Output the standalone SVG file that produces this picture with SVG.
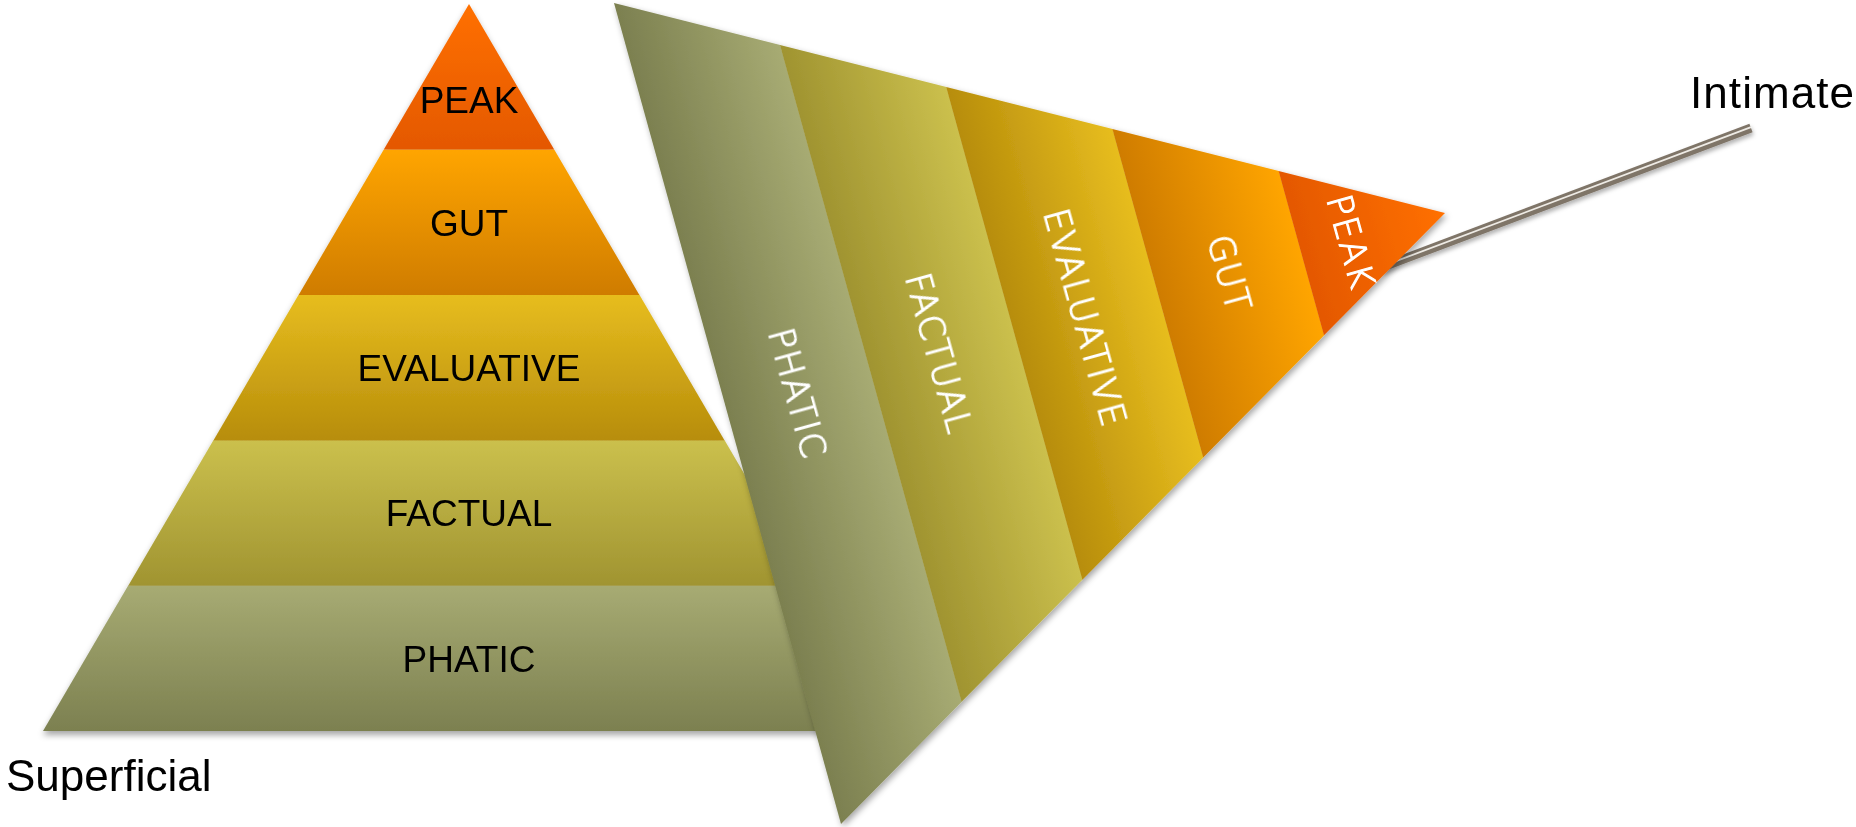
<svg xmlns="http://www.w3.org/2000/svg" width="1856" height="827" viewBox="0 0 1856 827">
  <defs>
    <linearGradient id="gPeak" x1="0" y1="0" x2="0" y2="1"><stop offset="0" stop-color="#ff7000"/><stop offset="1" stop-color="#e45800"/></linearGradient>
    <linearGradient id="gGut" x1="0" y1="0" x2="0" y2="1"><stop offset="0" stop-color="#ffa500"/><stop offset="1" stop-color="#cf7c00"/></linearGradient>
    <linearGradient id="gEval" x1="0" y1="0" x2="0" y2="1"><stop offset="0" stop-color="#e7bd1f"/><stop offset="1" stop-color="#b78d0b"/></linearGradient>
    <linearGradient id="gFact" x1="0" y1="0" x2="0" y2="1"><stop offset="0" stop-color="#cbc04d"/><stop offset="1" stop-color="#a09431"/></linearGradient>
    <linearGradient id="gPhat" x1="0" y1="0" x2="0" y2="1"><stop offset="0" stop-color="#a7ab73"/><stop offset="1" stop-color="#7c8050"/></linearGradient>
    <filter id="shPyr" x="-5%" y="-5%" width="110%" height="115%">
      <feDropShadow dx="0" dy="4" stdDeviation="3" flood-color="#000" flood-opacity="0.35"/>
    </filter>
    <filter id="shFun" x="-10%" y="-10%" width="120%" height="120%">
      <feDropShadow dx="2" dy="3" stdDeviation="3" flood-color="#000" flood-opacity="0.35"/>
    </filter>
    <filter id="shStick" x="-10%" y="-50%" width="120%" height="200%">
      <feDropShadow dx="1" dy="3" stdDeviation="2" flood-color="#000" flood-opacity="0.3"/>
    </filter>
    <style>
      .lbl { font-family: "Liberation Sans", Arial, sans-serif; font-size: 37px; fill: #000; text-anchor: middle; }
      .flbl { font-family: "DejaVu Sans", "Liberation Sans", sans-serif; font-weight: 300; font-size: 35px; letter-spacing: 1.5px; fill: #fff; stroke: #fff; stroke-width: 1.1px; text-anchor: middle; }
      .end { font-family: "Liberation Sans", Arial, sans-serif; font-size: 44px; fill: #000; }
    </style>
  </defs>

  <!-- Left pyramid -->
  <g id="pyramid" filter="url(#shPyr)">
    <g id="pyr-phatic">
      <polygon points="128.2,585.6 809.8,585.6 895,731 43,731" fill="url(#gPhat)"/>
      <text class="lbl" x="469" y="672">PHATIC</text>
    </g>
    <g id="pyr-factual">
      <polygon points="213.4,440.2 724.6,440.2 809.8,585.8 128.2,585.8" fill="url(#gFact)"/>
      <text class="lbl" x="469" y="526">FACTUAL</text>
    </g>
    <g id="pyr-evaluative">
      <polygon points="298.6,294.8 639.4,294.8 724.6,440.4 213.4,440.4" fill="url(#gEval)"/>
      <text class="lbl" x="469" y="381">EVALUATIVE</text>
    </g>
    <g id="pyr-gut">
      <polygon points="383.8,149.4 554.2,149.4 639.4,295 298.6,295" fill="url(#gGut)"/>
      <text class="lbl" x="469" y="236">GUT</text>
    </g>
    <g id="pyr-peak">
      <polygon points="469,4 554.2,149.6 383.8,149.6" fill="url(#gPeak)"/>
      <text class="lbl" x="469" y="113">PEAK</text>
    </g>
  </g>

  <!-- Connector: stick to "Intimate" -->
  <g id="connectors" filter="url(#shStick)">
    <line x1="1380" y1="268" x2="1751" y2="128" stroke="#7f7568" stroke-width="9"/>
    <line x1="1380" y1="267.2" x2="1751" y2="127.2" stroke="#eeebe5" stroke-width="1.8"/>
  </g>

  <!-- Rotated pyramid (funnel) -->
  <g id="funnel" filter="url(#shFun)">
    <g id="fun-phatic">
      <polygon transform="matrix(0.26643,0.96362,-0.98693,0.27579,1323.99,-240.04)" points="128.2,585.6 809.8,585.6 895,731 43,731" fill="url(#gPhat)"/>
    </g>
    <g id="fun-factual">
      <polygon transform="matrix(0.26643,0.96362,-0.98693,0.27579,1323.99,-240.04)" points="213.4,440.2 724.6,440.2 809.8,585.8 128.2,585.8" fill="url(#gFact)"/>
    </g>
    <g id="fun-evaluative">
      <polygon transform="matrix(0.26643,0.96362,-0.98693,0.27579,1323.99,-240.04)" points="298.6,294.8 639.4,294.8 724.6,440.4 213.4,440.4" fill="url(#gEval)"/>
    </g>
    <g id="fun-gut">
      <polygon transform="matrix(0.26643,0.96362,-0.98693,0.27579,1323.99,-240.04)" points="383.8,149.4 554.2,149.4 639.4,295 298.6,295" fill="url(#gGut)"/>
    </g>
    <g id="fun-peak">
      <polygon transform="matrix(0.26643,0.96362,-0.98693,0.27579,1323.99,-240.04)" points="469,4 554.2,149.6 383.8,149.6" fill="url(#gPeak)"/>
    </g>
  </g>
  <g id="funnel-labels">
    <text class="flbl" transform="translate(798.3,393.3) rotate(74.5)" y="13">PHATIC</text>
    <text class="flbl" transform="translate(939.5,353.3) rotate(74.5)" y="13">FACTUAL</text>
    <text class="flbl" transform="translate(1085.7,317.7) rotate(74.5)" y="13">EVALUATIVE</text>
    <text class="flbl" transform="translate(1230,273.3) rotate(74.5)" y="13">GUT</text>
    <text class="flbl" transform="translate(1351.7,241.7) rotate(74.5)" y="13">PEAK</text>
  </g>

  <!-- End labels -->
  <g id="label-superficial">
    <text class="end" x="6" y="791">Superficial</text>
  </g>
  <g id="label-intimate">
    <text class="end" x="1690" y="108" textLength="164" lengthAdjust="spacing">Intimate</text>
  </g>
</svg>
